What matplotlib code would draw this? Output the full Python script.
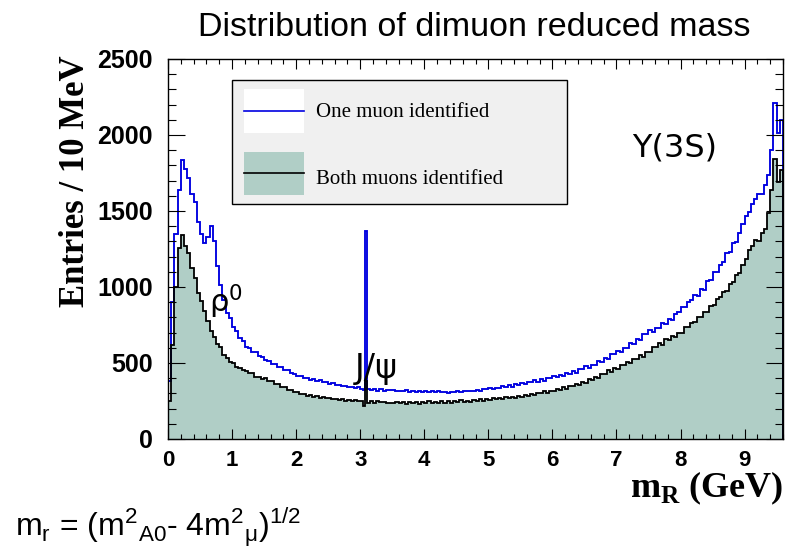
import numpy as np
import matplotlib
matplotlib.use("Agg")
import matplotlib.pyplot as plt
from matplotlib.patches import Rectangle
from matplotlib.ticker import MultipleLocator

# bin edges in GeV: 50 MeV bins, with a narrow bin kept for the J/psi peak
mass_edges = np.round(np.concatenate([np.linspace(0, 3.05, 62), [3.08, 3.10],
                                      np.linspace(3.15, 9.6, 130)]), 3)

# entries per bin, one muon identified (blue)
one_muon = [
    380, 900, 1350, 1640, 1835, 1775, 1715, 1615, 1560, 1430,
    1350, 1290, 1330, 1400, 1300, 1140, 1010, 915, 828, 798,
    740, 712, 665, 648, 606, 601, 574, 572, 546, 541,
    517, 515, 495, 495, 473, 472, 455, 451, 431, 430,
    416, 417, 400, 404, 390, 393, 380, 385, 372, 375,
    363, 366, 354, 358, 346, 351, 339, 345, 334, 339,
    330,
    322, 1368, 326,
    325, 330, 318, 327, 314, 322, 320, 322, 316, 317,
    316, 322, 310, 319, 306, 318, 309, 318, 306, 315,
    308, 313, 308, 312, 305, 312, 311, 316, 310, 313,
    313, 319, 314, 320, 316, 328, 327, 337, 331, 338,
    338, 350, 341, 354, 344, 361, 358, 371, 362, 375,
    372, 387, 378, 393, 383, 404, 399, 415, 405, 419,
    417, 437, 425, 446, 434, 461, 458, 480, 468, 488,
    488, 513, 504, 536, 528, 556, 556, 582, 575, 596,
    600, 630, 625, 657, 653, 690, 690, 715, 706, 727,
    730, 765, 758, 790, 785, 825, 834, 870, 868, 900,
    912, 950, 940, 984, 982, 1037, 1047, 1096, 1101, 1146,
    1166, 1225, 1233, 1289, 1297, 1357, 1412, 1468, 1491, 1546,
    1580, 1615, 1615, 1670, 1740, 1900, 2210, 2010, 2100,
]

# entries per bin, both muons identified (black, filled)
both_muons = [
    250, 620, 1000, 1255, 1340, 1270, 1222, 1125, 1058, 960,
    910, 845, 776, 708, 670, 628, 603, 553, 536, 508,
    500, 476, 470, 452, 450, 432, 432, 410, 408, 395,
    399, 382, 380, 362, 361, 344, 340, 323, 322, 307,
    307, 295, 296, 285, 287, 277, 280, 272, 275, 267,
    270, 261, 265, 257, 261, 253, 258, 250, 255, 247,
    250,
    218, 380, 236,
    249, 240, 247, 242, 244, 236, 240, 238, 243, 239,
    241, 232, 245, 235, 243, 230, 242, 235, 247, 238,
    246, 236, 249, 240, 249, 237, 248, 241, 254, 246,
    253, 245, 257, 252, 260, 249, 261, 258, 269, 263,
    271, 260, 276, 268, 278, 269, 281, 276, 290, 285,
    295, 288, 304, 300, 313, 304, 318, 315, 330, 325,
    339, 331, 351, 346, 363, 354, 373, 371, 392, 389,
    408, 401, 428, 427, 452, 442, 465, 462, 488, 485,
    508, 498, 528, 526, 550, 540, 570, 570, 604, 602,
    632, 620, 658, 650, 680, 668, 699, 700, 735, 736,
    766, 767, 800, 804, 834, 836, 872, 884, 924, 933,
    966, 975, 1022, 1035, 1082, 1090, 1145, 1182, 1245, 1268,
    1310, 1305, 1355, 1380, 1490, 1640, 1840, 1690, 1770,
]

legend_labels = ["One muon identified", "Both muons identified"]

blue = "#0000e0"
fill_green = "#b0cec6"

plt.rcParams['font.family'] = ['Liberation Sans', 'DejaVu Sans']

fig = plt.figure(figsize=(7.89, 5.5), dpi=100)
ax = fig.add_axes([168 / 789, 1 - 439 / 550, 615 / 789, 380 / 550])

ax.stairs(both_muons, mass_edges, fill=True, color=fill_green, lw=0)
ax.stairs(one_muon, mass_edges, color=blue, lw=1.35)
ax.stairs(both_muons, mass_edges, color="black", lw=1.3)

ax.set_xlim(0, 9.6)
ax.set_ylim(0, 2500)
ax.xaxis.set_major_locator(MultipleLocator(1))
ax.xaxis.set_minor_locator(MultipleLocator(0.2))
ax.yaxis.set_major_locator(MultipleLocator(500))
ax.yaxis.set_minor_locator(MultipleLocator(100))
ax.tick_params(which="both", direction="in", top=True, right=True, width=0.8)
ax.tick_params(axis="y", which="major", length=12, pad=11)
ax.tick_params(axis="y", which="minor", length=6)
ax.tick_params(axis="x", which="major", length=7.5, pad=8)
ax.tick_params(axis="x", which="minor", length=3.8)
plt.setp(ax.get_yticklabels(), fontsize=18, fontweight="bold")
plt.setp(ax.get_xticklabels(), fontsize=16, fontweight="bold")
for sp in ax.spines.values():
    sp.set_linewidth(1.0)

# legend box drawn ROOT style
ax.add_patch(Rectangle((0.104, 0.618), 0.545, 0.327, transform=ax.transAxes,
                       facecolor="#f0f0f0", edgecolor="black", lw=1.0, zorder=5))
ax.add_patch(Rectangle((0.124, 0.805), 0.097, 0.116, transform=ax.transAxes,
                       facecolor="white", edgecolor="none", zorder=6))
ax.plot([0.124, 0.221], [0.863, 0.863], transform=ax.transAxes, color=blue, lw=1.2, zorder=7)
ax.add_patch(Rectangle((0.124, 0.642), 0.097, 0.113, transform=ax.transAxes,
                       facecolor=fill_green, edgecolor="none", zorder=6))
ax.plot([0.124, 0.221], [0.700, 0.700], transform=ax.transAxes, color="black", lw=1.2, zorder=7)
ax.text(0.241, 0.858, legend_labels[0], transform=ax.transAxes, fontsize=15,
        family="Liberation Serif", va="center", zorder=7)
ax.text(0.241, 0.682, legend_labels[1], transform=ax.transAxes, fontsize=15,
        family="Liberation Serif", va="center", zorder=7)

# particle labels
ax.text(0.90, 900, "ρ$^0$", fontsize=22, family="DejaVu Sans", ha="center", va="center")
ax.text(3.25, 467, "J/ψ", fontsize=24, family="DejaVu Sans", ha="center", va="center")
ax.text(7.91, 1914, "Y(3S)", fontsize=23, family="DejaVu Sans", ha="center", va="center")

fig.text(474 / 789, 1 - 28 / 550, "Distribution of dimuon reduced mass",
         fontsize=24.5, ha="center", va="center")
fig.text(76 / 789, 1 - 181 / 550, "Entries / 10 MeV", rotation=90, fontsize=25,
         family="Liberation Serif", fontweight="bold", ha="center", va="center")
ax.text(1.0, -0.129, r"m$_{\mathregular{R}}$ (GeV)", transform=ax.transAxes, fontsize=26,
        family="Liberation Serif", fontweight="bold", ha="right", va="center")
fig.text(15 / 789, 1 - 527 / 550,
         r"m$_{\mathregular{r}}$ = (m$^{\mathregular{2}}$$_{\mathregular{A0}}$- 4m$^{\mathregular{2}}$$_{\mathregular{μ}}$)$^{\mathregular{1/2}}$",
         fontsize=23, ha="left", va="center")

fig.savefig("out.png", dpi=100)
